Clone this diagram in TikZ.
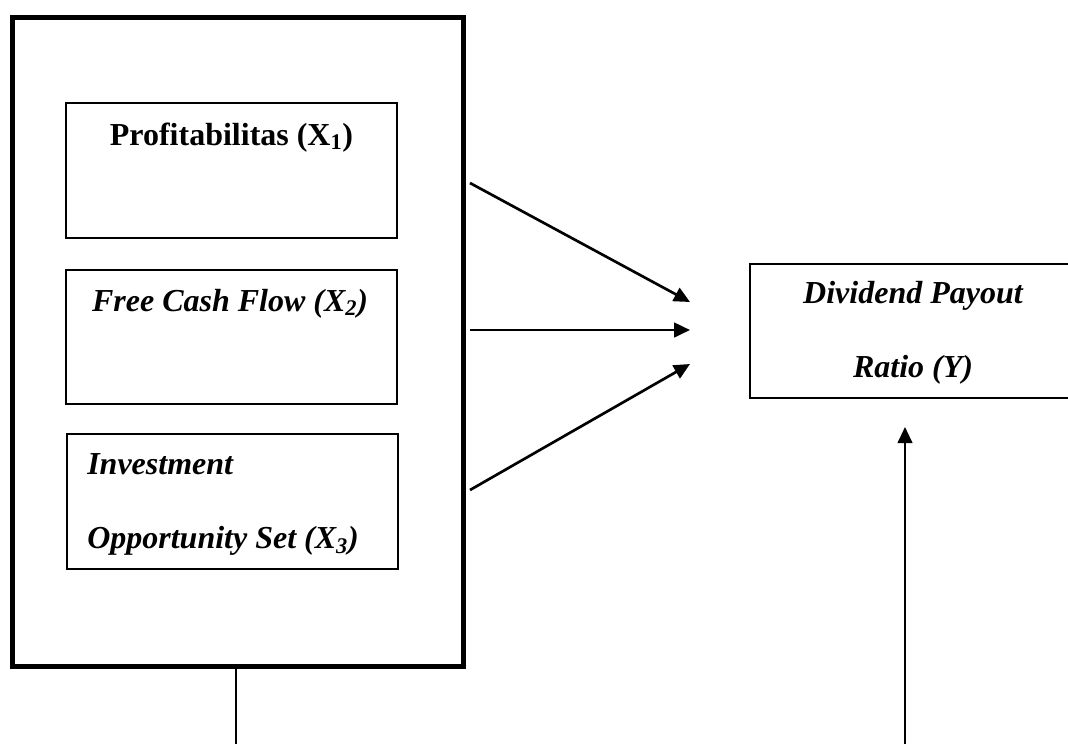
\documentclass[tikz,border=0pt]{standalone}
\usepackage{fontspec}
\setmainfont{Liberation Serif}
\usetikzlibrary{arrows.meta}
\tikzset{
  varbox/.style={draw,line width=1.1pt,inner sep=0pt,minimum width=248.25pt,minimum height=101.25pt},
  txt/.style={inner sep=0pt,font=\fontsize{24}{55.5}\selectfont\bfseries},
  flow/.style={line width=2pt,-{Triangle[length=12pt,width=11pt]}}
}
\begin{document}
\begin{tikzpicture}[x=0.75pt,y=-0.75pt]
    \path [use as bounding box,clip] (0,0) rectangle (1068,744);
    \node [draw,line width=3.75pt,inner sep=0pt,minimum width=338.6pt,minimum height=487.1pt] (frame) at (238.25,342.25) {};
    \node [varbox] (prof) at (231.5,170.5) {};
    \node [varbox,minimum height=100.5pt] (fcf) at (231.5,337) {};
    \node [varbox] (ios) at (232.5,501.5) {};
    \node [varbox,minimum width=244.5pt,minimum height=100.5pt] (dpr) at (913,331) {};
    \node [txt,anchor=base] (proftext) at (231.5,145) {Profitabilitas (X\textsubscript{1})};
    \node [txt,anchor=base,font=\fontsize{24}{55.5}\selectfont\bfseries\itshape] (fcftext) at (230,311) {Free Cash Flow (X\textsubscript{2})};
    \node [txt,anchor=north west,align=left,font=\fontsize{24}{55.5}\selectfont\bfseries\itshape] (iostext) at (87,453) {Investment\\Opportunity Set (X\textsubscript{3})};
    \node [txt,anchor=north,align=center,font=\fontsize{24}{55.5}\selectfont\bfseries\itshape] (dprtext) at (913,281) {Dividend Payout\\Ratio (Y)};
    \coordinate (s1) at (470,183);
    \coordinate (s2) at (470,330);
    \coordinate (s3) at (470,490);
    \coordinate (e1) at (690,302);
    \coordinate (e2) at (690,330);
    \coordinate (e3) at (690,364);
    \draw [flow] (s1) -- (e1);
    \draw [flow] (s2) -- (e2);
    \draw [flow] (s3) -- (e3);
    \coordinate (foot) at (236,744);
    \draw [line width=1.5pt] (frame.south -| foot) -- (foot);
    \coordinate (rise) at (905,744);
    \coordinate (tip) at (905,427);
    \draw [line width=1.5pt,-{Triangle[length=12pt,width=11pt]}] (rise) -- (tip);
\end{tikzpicture}
\end{document}
